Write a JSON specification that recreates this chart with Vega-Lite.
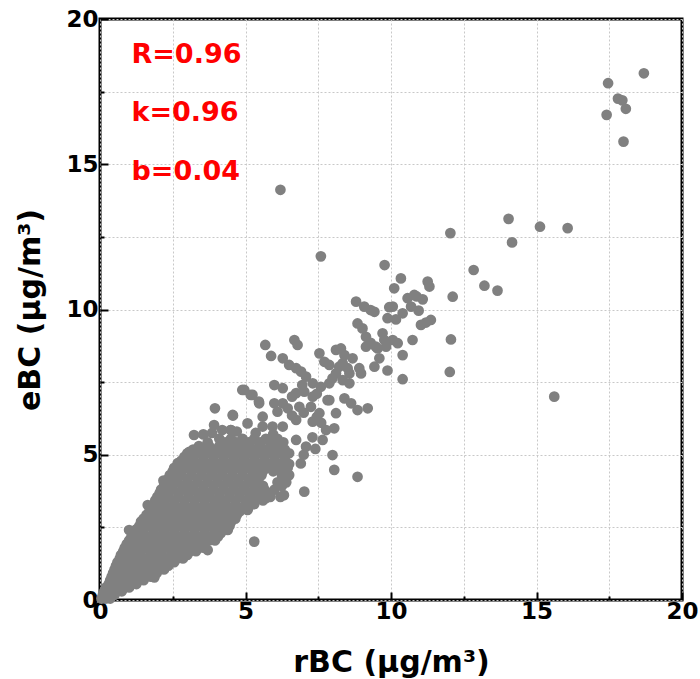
{
"$schema": "https://vega.github.io/schema/vega-lite/v6.json",
"width": 582, "height": 581,
"autosize": {"type": "none"},
"padding": {"left": 100, "top": 19, "right": 18, "bottom": 79},
"background": "white",
"config": {
  "view": {"stroke": "black", "strokeWidth": 3},
  "font": "DejaVu Sans",
  "axis": {
    "grid": true, "gridColor": "#c8c8c8", "gridDash": [2, 2], "gridWidth": 1,
    "domain": false, "labelFlush": false,
    "ticks": true, "tickColor": "black", "tickWidth": 2,
    "tickSize": {"condition": {"test": "datum.value % 5 === 0", "value": -8}, "value": -4},
    "labelFont": "DejaVu Sans", "labelFontWeight": "bold", "labelFontSize": 23, "labelColor": "black",
    "titleFont": "DejaVu Sans", "titleFontWeight": "bold", "titleFontSize": 30, "titleColor": "black"
  }
},
"datasets": {
  "points": [
{"rBC":18.69,"eBC":18.13},{"rBC":17.46,"eBC":17.79},{"rBC":17.8,"eBC":17.26},{"rBC":17.95,"eBC":17.2},{"rBC":18.07,"eBC":16.91},{"rBC":17.41,"eBC":16.7},{"rBC":17.99,"eBC":15.78},
{"rBC":6.2,"eBC":14.12},{"rBC":7.59,"eBC":11.83},{"rBC":14.04,"eBC":13.12},{"rBC":15.12,"eBC":12.85},{"rBC":16.07,"eBC":12.8},{"rBC":14.16,"eBC":12.31},{"rBC":12.04,"eBC":12.63},{"rBC":12.84,"eBC":11.36},{"rBC":13.21,"eBC":10.82},{"rBC":13.66,"eBC":10.65},{"rBC":12.12,"eBC":10.44},{"rBC":12.06,"eBC":8.97},{"rBC":12.02,"eBC":7.85},{"rBC":15.61,"eBC":7.0},
{"rBC":9.78,"eBC":11.53},{"rBC":10.34,"eBC":11.07},{"rBC":10.11,"eBC":10.73},{"rBC":11.26,"eBC":10.96},{"rBC":11.32,"eBC":10.79},
{"rBC":10.57,"eBC":10.39},{"rBC":10.8,"eBC":10.5},{"rBC":10.88,"eBC":10.45},{"rBC":11.09,"eBC":10.35},{"rBC":10.69,"eBC":10.1},{"rBC":10.95,"eBC":9.96},{"rBC":10.4,"eBC":9.87},{"rBC":10.06,"eBC":10.1},{"rBC":9.43,"eBC":9.92},{"rBC":9.3,"eBC":9.98},{"rBC":9.94,"eBC":10.08},{"rBC":9.88,"eBC":9.7},{"rBC":10.17,"eBC":9.66},{"rBC":11.03,"eBC":9.47},{"rBC":11.2,"eBC":9.55},{"rBC":11.37,"eBC":9.64},{"rBC":9.71,"eBC":9.18},{"rBC":9.77,"eBC":8.95},{"rBC":9.48,"eBC":8.72},{"rBC":9.3,"eBC":8.85},{"rBC":10.23,"eBC":8.84},{"rBC":10.74,"eBC":8.95},{"rBC":10.4,"eBC":8.43},{"rBC":9.6,"eBC":8.32},{"rBC":9.43,"eBC":8.03},{"rBC":9.88,"eBC":7.9},{"rBC":10.4,"eBC":7.6},{"rBC":8.8,"eBC":10.27},{"rBC":9.08,"eBC":10.1},{"rBC":8.85,"eBC":9.52},{"rBC":9.02,"eBC":9.35},{"rBC":9.14,"eBC":9.06},{"rBC":9.14,"eBC":8.72},{"rBC":9.83,"eBC":8.72},{"rBC":10.06,"eBC":8.95},{"rBC":9.54,"eBC":8.66},
{"rBC":5.68,"eBC":8.78},{"rBC":5.88,"eBC":8.4},{"rBC":6.68,"eBC":8.95},{"rBC":6.79,"eBC":8.78},{"rBC":6.28,"eBC":8.32},{"rBC":6.5,"eBC":8.09},{"rBC":6.74,"eBC":7.98},{"rBC":6.91,"eBC":7.86},{"rBC":7.08,"eBC":7.69},{"rBC":7.54,"eBC":8.49},{"rBC":7.71,"eBC":8.2},{"rBC":7.88,"eBC":8.09},{"rBC":8.11,"eBC":8.61},{"rBC":8.28,"eBC":8.66},{"rBC":8.4,"eBC":8.43},{"rBC":8.34,"eBC":8.15},{"rBC":8.51,"eBC":7.98},{"rBC":8.57,"eBC":7.8},{"rBC":8.68,"eBC":8.32},{"rBC":8.91,"eBC":7.98},{"rBC":8.97,"eBC":7.8},{"rBC":8.22,"eBC":8.03},{"rBC":8.11,"eBC":7.8},{"rBC":7.99,"eBC":7.63},{"rBC":7.88,"eBC":7.46},{"rBC":8.34,"eBC":7.57},{"rBC":8.57,"eBC":7.46},{"rBC":7.59,"eBC":7.34},{"rBC":7.82,"eBC":6.88},{"rBC":7.54,"eBC":6.43},
{"rBC":4.96,"eBC":7.23},{"rBC":5.24,"eBC":7.06},{"rBC":5.47,"eBC":6.77},{"rBC":5.59,"eBC":6.31},{"rBC":5.99,"eBC":7.4},{"rBC":6.28,"eBC":7.29},{"rBC":5.99,"eBC":6.77},{"rBC":6.28,"eBC":6.77},{"rBC":6.1,"eBC":6.48},{"rBC":6.74,"eBC":7.12},{"rBC":7.02,"eBC":7.17},{"rBC":7.31,"eBC":7.0},{"rBC":6.85,"eBC":6.65},{"rBC":7.25,"eBC":6.65},{"rBC":7.88,"eBC":6.88},{"rBC":8.11,"eBC":6.43},{"rBC":8.4,"eBC":6.94},{"rBC":8.63,"eBC":6.77},{"rBC":8.85,"eBC":6.54},{"rBC":9.2,"eBC":6.6},
{"rBC":4.56,"eBC":6.37},{"rBC":5.07,"eBC":6.08},{"rBC":4.5,"eBC":5.85},{"rBC":5.59,"eBC":5.97},{"rBC":5.93,"eBC":5.97},{"rBC":6.28,"eBC":5.97},{"rBC":6.74,"eBC":6.2},{"rBC":7.31,"eBC":6.14},{"rBC":7.77,"eBC":5.85},{"rBC":8.05,"eBC":5.91},{"rBC":6.74,"eBC":5.51},{"rBC":7.08,"eBC":5.28},{"rBC":7.65,"eBC":5.51},{"rBC":7.99,"eBC":4.99},{"rBC":8.05,"eBC":4.48},{"rBC":8.85,"eBC":4.24},
{"rBC":7.31,"eBC":7.46},{"rBC":7.45,"eBC":7.1},{"rBC":6.95,"eBC":7.4},{"rBC":6.6,"eBC":7.0},{"rBC":6.45,"eBC":6.6},{"rBC":6.6,"eBC":6.35},{"rBC":7.0,"eBC":6.45},{"rBC":7.45,"eBC":6.3},{"rBC":7.6,"eBC":6.1},{"rBC":7.3,"eBC":5.6},{"rBC":7.0,"eBC":5.0},{"rBC":6.9,"eBC":4.7},{"rBC":7.4,"eBC":5.2},
{"rBC":6.32,"eBC":3.61},{"rBC":7.02,"eBC":3.73},{"rBC":5.7,"eBC":3.5},{"rBC":5.13,"eBC":3.44},{"rBC":5.07,"eBC":3.1},{"rBC":5.3,"eBC":2.01},{"rBC":4.39,"eBC":2.41},{"rBC":3.7,"eBC":1.72},{"rBC":4.6,"eBC":2.98},{"rBC":4.26,"eBC":2.64},{"rBC":2.66,"eBC":1.49},{"rBC":2.2,"eBC":1.26},{"rBC":1.87,"eBC":0.78},
{"rBC":2.18,"eBC":4.11},{"rBC":1.64,"eBC":3.27},{"rBC":1.41,"eBC":2.7},{"rBC":1.0,"eBC":2.41},{"rBC":2.67,"eBC":4.71},{"rBC":3.23,"eBC":5.68},{"rBC":3.07,"eBC":5.1},{"rBC":3.95,"eBC":6.6},{"rBC":4.57,"eBC":6.35},{"rBC":3.92,"eBC":6.02},{"rBC":4.2,"eBC":5.85},{"rBC":4.49,"eBC":5.85},{"rBC":4.89,"eBC":7.23},{"rBC":5.18,"eBC":7.06},{"rBC":5.46,"eBC":6.83},
{"rBC":3.55,"eBC":5.7},{"rBC":3.85,"eBC":5.75},{"rBC":4.7,"eBC":5.8},{"rBC":5.35,"eBC":5.75},{"rBC":5.95,"eBC":5.7},
{"rBC":0.05,"eBC":0.05},{"rBC":0.2,"eBC":0.05},{"rBC":0.35,"eBC":0.05},
{"rBC":0.1,"eBC":0.18},{"rBC":0.3,"eBC":0.18},{"rBC":0.5,"eBC":0.18},
{"rBC":0.15,"eBC":0.3},{"rBC":0.45,"eBC":0.3},{"rBC":0.75,"eBC":0.3},
{"rBC":0.2,"eBC":0.43},{"rBC":0.45,"eBC":0.43},{"rBC":0.75,"eBC":0.43},{"rBC":1.0,"eBC":0.43},
{"rBC":0.3,"eBC":0.55},{"rBC":0.6,"eBC":0.55},{"rBC":0.95,"eBC":0.55},{"rBC":1.25,"eBC":0.55},
{"rBC":0.35,"eBC":0.68},{"rBC":0.6,"eBC":0.68},{"rBC":0.9,"eBC":0.68},{"rBC":1.25,"eBC":0.68},{"rBC":1.5,"eBC":0.68},
{"rBC":0.4,"eBC":0.8},{"rBC":0.75,"eBC":0.8},{"rBC":1.1,"eBC":0.8},{"rBC":1.45,"eBC":0.8},{"rBC":1.75,"eBC":0.8},
{"rBC":0.45,"eBC":0.93},{"rBC":0.7,"eBC":0.93},{"rBC":1.0,"eBC":0.93},{"rBC":1.35,"eBC":0.93},{"rBC":1.7,"eBC":0.93},{"rBC":1.95,"eBC":0.93},
{"rBC":0.5,"eBC":1.05},{"rBC":0.85,"eBC":1.05},{"rBC":1.2,"eBC":1.05},{"rBC":1.55,"eBC":1.05},{"rBC":1.9,"eBC":1.05},{"rBC":2.2,"eBC":1.05},
{"rBC":0.55,"eBC":1.18},{"rBC":0.8,"eBC":1.18},{"rBC":1.1,"eBC":1.18},{"rBC":1.45,"eBC":1.18},{"rBC":1.8,"eBC":1.18},{"rBC":2.1,"eBC":1.18},{"rBC":2.35,"eBC":1.18},
{"rBC":0.6,"eBC":1.3},{"rBC":0.95,"eBC":1.3},{"rBC":1.3,"eBC":1.3},{"rBC":1.65,"eBC":1.3},{"rBC":2.0,"eBC":1.3},{"rBC":2.35,"eBC":1.3},{"rBC":2.55,"eBC":1.3},
{"rBC":0.68,"eBC":1.43},{"rBC":0.95,"eBC":1.43},{"rBC":1.25,"eBC":1.43},{"rBC":1.6,"eBC":1.43},{"rBC":1.95,"eBC":1.43},{"rBC":2.3,"eBC":1.43},{"rBC":2.65,"eBC":1.43},{"rBC":2.85,"eBC":1.43},
{"rBC":0.72,"eBC":1.55},{"rBC":1.05,"eBC":1.55},{"rBC":1.4,"eBC":1.55},{"rBC":1.75,"eBC":1.55},{"rBC":2.1,"eBC":1.55},{"rBC":2.45,"eBC":1.55},{"rBC":2.8,"eBC":1.55},{"rBC":3.0,"eBC":1.55},
{"rBC":0.8,"eBC":1.68},{"rBC":1.1,"eBC":1.68},{"rBC":1.4,"eBC":1.68},{"rBC":1.75,"eBC":1.68},{"rBC":2.1,"eBC":1.68},{"rBC":2.45,"eBC":1.68},{"rBC":2.8,"eBC":1.68},{"rBC":3.1,"eBC":1.68},{"rBC":3.3,"eBC":1.68},
{"rBC":0.85,"eBC":1.8},{"rBC":1.2,"eBC":1.8},{"rBC":1.55,"eBC":1.8},{"rBC":1.9,"eBC":1.8},{"rBC":2.25,"eBC":1.8},{"rBC":2.6,"eBC":1.8},{"rBC":2.95,"eBC":1.8},{"rBC":3.3,"eBC":1.8},{"rBC":3.55,"eBC":1.8},
{"rBC":0.92,"eBC":1.93},{"rBC":1.2,"eBC":1.93},{"rBC":1.5,"eBC":1.93},{"rBC":1.85,"eBC":1.93},{"rBC":2.2,"eBC":1.93},{"rBC":2.55,"eBC":1.93},{"rBC":2.9,"eBC":1.93},{"rBC":3.25,"eBC":1.93},{"rBC":3.6,"eBC":1.93},
{"rBC":1.0,"eBC":2.05},{"rBC":1.3,"eBC":2.05},{"rBC":1.65,"eBC":2.05},{"rBC":2.0,"eBC":2.05},{"rBC":2.35,"eBC":2.05},{"rBC":2.7,"eBC":2.05},{"rBC":3.05,"eBC":2.05},{"rBC":3.4,"eBC":2.05},{"rBC":3.75,"eBC":2.05},{"rBC":3.95,"eBC":2.05},
{"rBC":1.08,"eBC":2.18},{"rBC":1.35,"eBC":2.18},{"rBC":1.7,"eBC":2.18},{"rBC":2.05,"eBC":2.18},{"rBC":2.4,"eBC":2.18},{"rBC":2.75,"eBC":2.18},{"rBC":3.1,"eBC":2.18},{"rBC":3.45,"eBC":2.18},{"rBC":3.8,"eBC":2.18},{"rBC":4.05,"eBC":2.18},
{"rBC":1.15,"eBC":2.3},{"rBC":1.5,"eBC":2.3},{"rBC":1.85,"eBC":2.3},{"rBC":2.2,"eBC":2.3},{"rBC":2.55,"eBC":2.3},{"rBC":2.9,"eBC":2.3},{"rBC":3.25,"eBC":2.3},{"rBC":3.6,"eBC":2.3},{"rBC":3.95,"eBC":2.3},{"rBC":4.15,"eBC":2.3},
{"rBC":1.25,"eBC":2.43},{"rBC":1.5,"eBC":2.43},{"rBC":1.85,"eBC":2.43},{"rBC":2.2,"eBC":2.43},{"rBC":2.55,"eBC":2.43},{"rBC":2.9,"eBC":2.43},{"rBC":3.25,"eBC":2.43},{"rBC":3.6,"eBC":2.43},{"rBC":3.95,"eBC":2.43},{"rBC":4.3,"eBC":2.43},
{"rBC":1.35,"eBC":2.55},{"rBC":1.65,"eBC":2.55},{"rBC":2.0,"eBC":2.55},{"rBC":2.35,"eBC":2.55},{"rBC":2.7,"eBC":2.55},{"rBC":3.05,"eBC":2.55},{"rBC":3.4,"eBC":2.55},{"rBC":3.75,"eBC":2.55},{"rBC":4.1,"eBC":2.55},{"rBC":4.45,"eBC":2.55},
{"rBC":1.42,"eBC":2.68},{"rBC":1.7,"eBC":2.68},{"rBC":2.05,"eBC":2.68},{"rBC":2.4,"eBC":2.68},{"rBC":2.75,"eBC":2.68},{"rBC":3.1,"eBC":2.68},{"rBC":3.45,"eBC":2.68},{"rBC":3.8,"eBC":2.68},{"rBC":4.15,"eBC":2.68},{"rBC":4.5,"eBC":2.68},
{"rBC":1.5,"eBC":2.8},{"rBC":1.85,"eBC":2.8},{"rBC":2.2,"eBC":2.8},{"rBC":2.55,"eBC":2.8},{"rBC":2.9,"eBC":2.8},{"rBC":3.25,"eBC":2.8},{"rBC":3.6,"eBC":2.8},{"rBC":3.95,"eBC":2.8},{"rBC":4.3,"eBC":2.8},{"rBC":4.65,"eBC":2.8},
{"rBC":1.6,"eBC":2.93},{"rBC":1.9,"eBC":2.93},{"rBC":2.25,"eBC":2.93},{"rBC":2.6,"eBC":2.93},{"rBC":2.95,"eBC":2.93},{"rBC":3.3,"eBC":2.93},{"rBC":3.65,"eBC":2.93},{"rBC":4.0,"eBC":2.93},{"rBC":4.35,"eBC":2.93},{"rBC":4.7,"eBC":2.93},
{"rBC":1.7,"eBC":3.05},{"rBC":2.0,"eBC":3.05},{"rBC":2.35,"eBC":3.05},{"rBC":2.7,"eBC":3.05},{"rBC":3.05,"eBC":3.05},{"rBC":3.4,"eBC":3.05},{"rBC":3.75,"eBC":3.05},{"rBC":4.1,"eBC":3.05},{"rBC":4.45,"eBC":3.05},{"rBC":4.8,"eBC":3.05},
{"rBC":1.78,"eBC":3.18},{"rBC":2.05,"eBC":3.18},{"rBC":2.4,"eBC":3.18},{"rBC":2.75,"eBC":3.18},{"rBC":3.1,"eBC":3.18},{"rBC":3.45,"eBC":3.18},{"rBC":3.8,"eBC":3.18},{"rBC":4.15,"eBC":3.18},{"rBC":4.5,"eBC":3.18},{"rBC":4.85,"eBC":3.18},{"rBC":5.1,"eBC":3.18},
{"rBC":1.85,"eBC":3.3},{"rBC":2.2,"eBC":3.3},{"rBC":2.55,"eBC":3.3},{"rBC":2.9,"eBC":3.3},{"rBC":3.25,"eBC":3.3},{"rBC":3.6,"eBC":3.3},{"rBC":3.95,"eBC":3.3},{"rBC":4.3,"eBC":3.3},{"rBC":4.65,"eBC":3.3},{"rBC":5.0,"eBC":3.3},{"rBC":5.3,"eBC":3.3},
{"rBC":1.9,"eBC":3.43},{"rBC":2.2,"eBC":3.43},{"rBC":2.55,"eBC":3.43},{"rBC":2.9,"eBC":3.43},{"rBC":3.25,"eBC":3.43},{"rBC":3.6,"eBC":3.43},{"rBC":3.95,"eBC":3.43},{"rBC":4.3,"eBC":3.43},{"rBC":4.65,"eBC":3.43},{"rBC":5.0,"eBC":3.43},{"rBC":5.35,"eBC":3.43},{"rBC":5.6,"eBC":3.43},
{"rBC":1.97,"eBC":3.55},{"rBC":2.35,"eBC":3.55},{"rBC":2.7,"eBC":3.55},{"rBC":3.05,"eBC":3.55},{"rBC":3.4,"eBC":3.55},{"rBC":3.75,"eBC":3.55},{"rBC":4.1,"eBC":3.55},{"rBC":4.45,"eBC":3.55},{"rBC":4.8,"eBC":3.55},{"rBC":5.15,"eBC":3.55},{"rBC":5.5,"eBC":3.55},{"rBC":5.85,"eBC":3.55},{"rBC":6.2,"eBC":3.55},
{"rBC":2.05,"eBC":3.68},{"rBC":2.35,"eBC":3.68},{"rBC":2.7,"eBC":3.68},{"rBC":3.05,"eBC":3.68},{"rBC":3.4,"eBC":3.68},{"rBC":3.75,"eBC":3.68},{"rBC":4.1,"eBC":3.68},{"rBC":4.45,"eBC":3.68},{"rBC":4.8,"eBC":3.68},{"rBC":5.15,"eBC":3.68},{"rBC":5.5,"eBC":3.68},{"rBC":5.85,"eBC":3.68},
{"rBC":2.1,"eBC":3.8},{"rBC":2.5,"eBC":3.8},{"rBC":2.85,"eBC":3.8},{"rBC":3.2,"eBC":3.8},{"rBC":3.55,"eBC":3.8},{"rBC":3.9,"eBC":3.8},{"rBC":4.25,"eBC":3.8},{"rBC":4.6,"eBC":3.8},{"rBC":4.95,"eBC":3.8},{"rBC":5.3,"eBC":3.8},{"rBC":5.65,"eBC":3.8},{"rBC":6.0,"eBC":3.8},
{"rBC":2.2,"eBC":3.93},{"rBC":2.5,"eBC":3.93},{"rBC":2.85,"eBC":3.93},{"rBC":3.2,"eBC":3.93},{"rBC":3.55,"eBC":3.93},{"rBC":3.9,"eBC":3.93},{"rBC":4.25,"eBC":3.93},{"rBC":4.6,"eBC":3.93},{"rBC":4.95,"eBC":3.93},{"rBC":5.3,"eBC":3.93},{"rBC":5.6,"eBC":3.93},{"rBC":6.25,"eBC":3.93},
{"rBC":2.25,"eBC":4.05},{"rBC":2.65,"eBC":4.05},{"rBC":3.0,"eBC":4.05},{"rBC":3.35,"eBC":4.05},{"rBC":3.7,"eBC":4.05},{"rBC":4.05,"eBC":4.05},{"rBC":4.4,"eBC":4.05},{"rBC":4.75,"eBC":4.05},{"rBC":5.1,"eBC":4.05},{"rBC":5.45,"eBC":4.05},{"rBC":6.1,"eBC":4.05},{"rBC":6.4,"eBC":4.05},
{"rBC":2.35,"eBC":4.18},{"rBC":2.65,"eBC":4.18},{"rBC":3.0,"eBC":4.18},{"rBC":3.35,"eBC":4.18},{"rBC":3.7,"eBC":4.18},{"rBC":4.05,"eBC":4.18},{"rBC":4.4,"eBC":4.18},{"rBC":4.75,"eBC":4.18},{"rBC":5.1,"eBC":4.18},{"rBC":5.4,"eBC":4.18},{"rBC":6.3,"eBC":4.18},
{"rBC":2.4,"eBC":4.3},{"rBC":2.8,"eBC":4.3},{"rBC":3.15,"eBC":4.3},{"rBC":3.5,"eBC":4.3},{"rBC":3.85,"eBC":4.3},{"rBC":4.2,"eBC":4.3},{"rBC":4.55,"eBC":4.3},{"rBC":4.9,"eBC":4.3},{"rBC":5.25,"eBC":4.3},{"rBC":5.55,"eBC":4.3},{"rBC":6.25,"eBC":4.3},{"rBC":6.5,"eBC":4.3},
{"rBC":2.5,"eBC":4.43},{"rBC":2.8,"eBC":4.43},{"rBC":3.15,"eBC":4.43},{"rBC":3.5,"eBC":4.43},{"rBC":3.85,"eBC":4.43},{"rBC":4.2,"eBC":4.43},{"rBC":4.55,"eBC":4.43},{"rBC":4.9,"eBC":4.43},{"rBC":5.25,"eBC":4.43},{"rBC":5.6,"eBC":4.43},{"rBC":5.95,"eBC":4.43},{"rBC":6.3,"eBC":4.43},
{"rBC":2.55,"eBC":4.55},{"rBC":2.95,"eBC":4.55},{"rBC":3.3,"eBC":4.55},{"rBC":3.65,"eBC":4.55},{"rBC":4.0,"eBC":4.55},{"rBC":4.35,"eBC":4.55},{"rBC":4.7,"eBC":4.55},{"rBC":5.05,"eBC":4.55},{"rBC":5.4,"eBC":4.55},{"rBC":5.75,"eBC":4.55},{"rBC":6.1,"eBC":4.55},{"rBC":6.45,"eBC":4.55},
{"rBC":2.7,"eBC":4.68},{"rBC":3.0,"eBC":4.68},{"rBC":3.35,"eBC":4.68},{"rBC":3.7,"eBC":4.68},{"rBC":4.05,"eBC":4.68},{"rBC":4.4,"eBC":4.68},{"rBC":4.75,"eBC":4.68},{"rBC":5.1,"eBC":4.68},{"rBC":5.45,"eBC":4.68},{"rBC":5.8,"eBC":4.68},{"rBC":6.15,"eBC":4.68},{"rBC":6.5,"eBC":4.68},
{"rBC":2.8,"eBC":4.8},{"rBC":3.2,"eBC":4.8},{"rBC":3.55,"eBC":4.8},{"rBC":3.9,"eBC":4.8},{"rBC":4.25,"eBC":4.8},{"rBC":4.6,"eBC":4.8},{"rBC":4.95,"eBC":4.8},{"rBC":5.3,"eBC":4.8},{"rBC":5.65,"eBC":4.8},{"rBC":6.0,"eBC":4.8},{"rBC":6.35,"eBC":4.8},
{"rBC":2.9,"eBC":4.93},{"rBC":3.2,"eBC":4.93},{"rBC":3.55,"eBC":4.93},{"rBC":3.9,"eBC":4.93},{"rBC":4.25,"eBC":4.93},{"rBC":4.6,"eBC":4.93},{"rBC":4.95,"eBC":4.93},{"rBC":5.3,"eBC":4.93},{"rBC":5.65,"eBC":4.93},{"rBC":6.0,"eBC":4.93},{"rBC":6.35,"eBC":4.93},
{"rBC":3.0,"eBC":5.05},{"rBC":3.4,"eBC":5.05},{"rBC":3.75,"eBC":5.05},{"rBC":4.1,"eBC":5.05},{"rBC":4.45,"eBC":5.05},{"rBC":4.8,"eBC":5.05},{"rBC":5.15,"eBC":5.05},{"rBC":5.5,"eBC":5.05},{"rBC":5.85,"eBC":5.05},{"rBC":6.2,"eBC":5.05},{"rBC":6.5,"eBC":5.05},
{"rBC":3.2,"eBC":5.18},{"rBC":3.55,"eBC":5.18},{"rBC":3.9,"eBC":5.18},{"rBC":4.25,"eBC":5.18},{"rBC":4.6,"eBC":5.18},{"rBC":4.95,"eBC":5.18},{"rBC":5.3,"eBC":5.18},{"rBC":5.65,"eBC":5.18},{"rBC":6.0,"eBC":5.18},{"rBC":6.35,"eBC":5.18},
{"rBC":3.4,"eBC":5.3},{"rBC":3.75,"eBC":5.3},{"rBC":4.1,"eBC":5.3},{"rBC":4.45,"eBC":5.3},{"rBC":4.8,"eBC":5.3},{"rBC":5.15,"eBC":5.3},{"rBC":5.5,"eBC":5.3},{"rBC":5.85,"eBC":5.3},{"rBC":6.2,"eBC":5.3},
{"rBC":3.7,"eBC":5.43},{"rBC":4.3,"eBC":5.43},{"rBC":4.7,"eBC":5.43},{"rBC":5.1,"eBC":5.43},{"rBC":5.5,"eBC":5.43},{"rBC":5.9,"eBC":5.43},{"rBC":6.3,"eBC":5.43},
{"rBC":4.1,"eBC":5.55},{"rBC":4.5,"eBC":5.55},{"rBC":4.9,"eBC":5.55},{"rBC":5.3,"eBC":5.55},{"rBC":5.7,"eBC":5.55},{"rBC":6.1,"eBC":5.55}
  ]
},
"layer": [
  {
    "data": {"name": "points"},
    "mark": {"type": "circle", "color": "#808080", "opacity": 1, "size": 115},
    "encoding": {
      "x": {"field": "rBC", "type": "quantitative", "scale": {"domain": [0, 20], "nice": false, "zero": false},
            "axis": {"title": "rBC (μg/m³)", "titlePadding": 24, "labelPadding": 8, "values": [0, 2.5, 5, 7.5, 10, 12.5, 15, 17.5, 20], "labelExpr": "datum.value % 5 === 0 ? datum.label : ''"}},
      "y": {"field": "eBC", "type": "quantitative", "scale": {"domain": [0, 20], "nice": false, "zero": false},
            "axis": {"title": "eBC (μg/m³)", "titlePadding": 20, "labelPadding": 10, "values": [0, 2.5, 5, 7.5, 10, 12.5, 15, 17.5, 20], "labelExpr": "datum.value % 5 === 0 ? datum.label : ''"}}
    }
  },
  {
    "data": {"values": [{"label": "R=0.96"}]},
    "mark": {"type": "text", "color": "#ff0000", "fontSize": 27, "fontWeight": "bold", "font": "DejaVu Sans", "align": "left", "baseline": "middle"},
    "encoding": {"x": {"datum": 1.08, "type": "quantitative"}, "y": {"datum": 18.76, "type": "quantitative"}, "text": {"field": "label"}}
  },
  {
    "data": {"values": [{"label": "k=0.96"}]},
    "mark": {"type": "text", "color": "#ff0000", "fontSize": 27, "fontWeight": "bold", "font": "DejaVu Sans", "align": "left", "baseline": "middle"},
    "encoding": {"x": {"datum": 1.08, "type": "quantitative"}, "y": {"datum": 16.76, "type": "quantitative"}, "text": {"field": "label"}}
  },
  {
    "data": {"values": [{"label": "b=0.04"}]},
    "mark": {"type": "text", "color": "#ff0000", "fontSize": 27, "fontWeight": "bold", "font": "DejaVu Sans", "align": "left", "baseline": "middle"},
    "encoding": {"x": {"datum": 1.08, "type": "quantitative"}, "y": {"datum": 14.73, "type": "quantitative"}, "text": {"field": "label"}}
  }
]
}
